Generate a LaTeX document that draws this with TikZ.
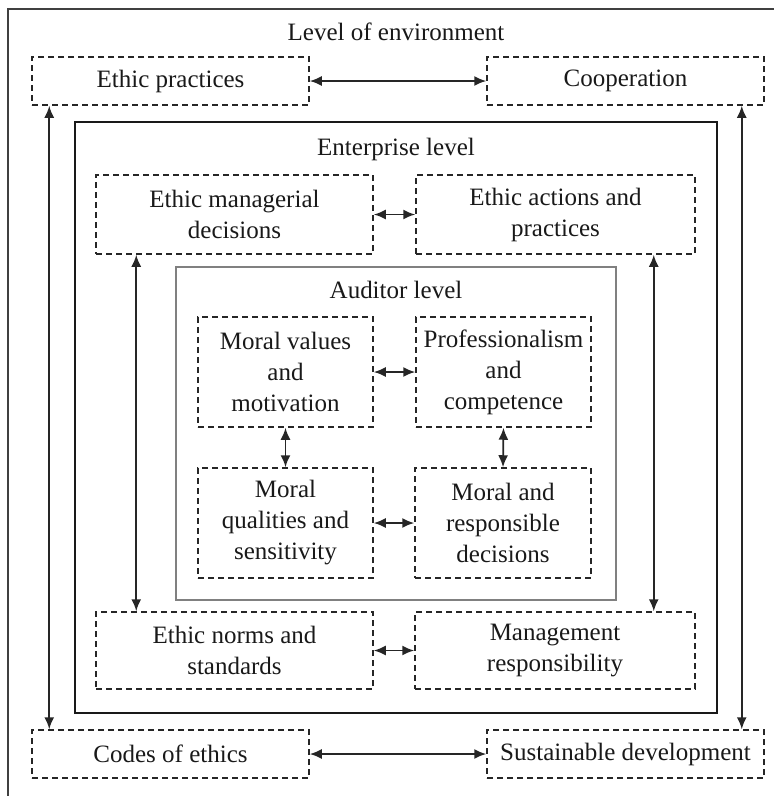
\documentclass[tikz,border=0pt]{standalone}
\usepackage{fontspec}
\setmainfont{Liberation Serif}
\usetikzlibrary{arrows.meta}
\begin{document}
\begin{tikzpicture}[x=1pt,y=-1pt,
  dbox/.style={draw=black!85, dash pattern=on 6pt off 4pt, line width=1.5pt, inner sep=0pt, align=center, font=\rmfamily\fontsize{25}{31}\selectfont, text=black!90},
  arr/.style={{Latex[length=12pt,width=10pt]}-{Latex[length=12pt,width=10pt]}, line width=1.8pt, draw=black!85, fill=black!85},
  ttl/.style={anchor=base, inner sep=0pt, font=\rmfamily\fontsize{25}{31}\selectfont, text=black!90}]
\useasboundingbox (0,0) rectangle (774,796);
\clip (0,0) rectangle (774,796);
% containers
\draw[line width=1.4pt, black!75] (8,9) rectangle (800,820);
\draw[line width=1.7pt, black!90] (75,122) rectangle (717,713);
\draw[line width=2.3pt, black!50] (176,267) rectangle (616,600);
% titles
\node[ttl] (tenv) at (396,40) {Level of environment};
\node[ttl] (tent) at (396,155) {Enterprise level};
\node[ttl] (taud) at (396,298) {Auditor level};
% environment level boxes
\node[dbox, minimum width=277pt, minimum height=48pt] (ep) at (170.5,81) {Ethic practices};
\node[dbox, minimum width=277pt, minimum height=48pt] (coop) at (625.5,81) {Cooperation};
\node[dbox, minimum width=277pt, minimum height=48pt] (codes) at (170.5,754) {Codes of ethics};
\node[dbox, minimum width=277pt, minimum height=48pt] (sust) at (625.5,754) {Sustainable development};
% enterprise level boxes
\node[dbox, minimum width=277pt, minimum height=79pt] (emd) at (234.5,214.5) {Ethic managerial\\decisions};
\node[dbox, minimum width=279pt, minimum height=79pt] (eap) at (555.5,214.5) {Ethic actions and\\practices};
\node[dbox, minimum width=277pt, minimum height=77pt] (ens) at (234.5,650.5) {Ethic norms and\\standards};
\node[dbox, minimum width=280pt, minimum height=77pt] (mr) at (555,650.5) {Management\\responsibility};
% auditor level boxes
\node[dbox, minimum width=175pt, minimum height=110pt] (mvm) at (285.5,372) {Moral values\\and\\motivation};
\node[dbox, minimum width=175pt, minimum height=110pt] (pc) at (503.5,372) {Professionalism\\and\\competence};
\node[dbox, minimum width=175pt, minimum height=110pt] (mqs) at (285.5,523) {Moral\\qualities and\\sensitivity};
\node[dbox, minimum width=176pt, minimum height=110pt] (mrd) at (503,523) {Moral and\\responsible\\decisions};
% connectors
\draw[arr] (ep.east) -- (coop.west);
\draw[arr] (codes.east) -- (sust.west);
\draw[arr] ([xshift=18pt]ep.south west) -- ([xshift=18pt]codes.north west);
\draw[arr] ([xshift=-23pt]coop.south east) -- ([xshift=-23pt]coop.south east |- sust.north);
\draw[arr] (emd.east) -- (eap.west);
\draw[arr] (ens.east) -- (mr.west);
\draw[arr] ([xshift=41pt]emd.south west) -- ([xshift=41pt]ens.north west);
\draw[arr] ([xshift=-42pt]eap.south east) -- ([xshift=-42pt]eap.south east |- mr.north);
\draw[arr] (mvm.east) -- (pc.west);
\draw[arr] (mqs.east) -- (mrd.west);
\draw[arr] (mvm.south) -- (mqs.north);
\draw[arr] (pc.south) -- (mrd.north);
\end{tikzpicture}
\end{document}
